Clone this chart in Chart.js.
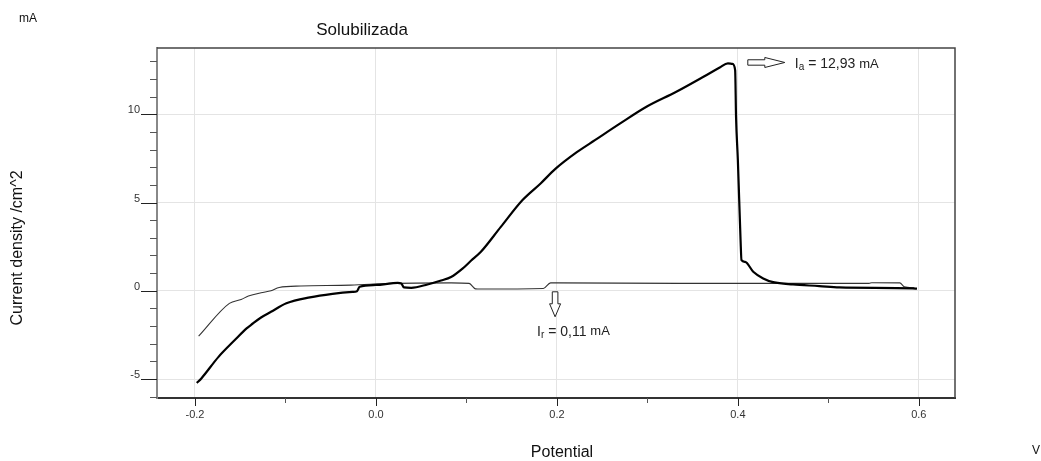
<!DOCTYPE html>
<html>
<head>
<meta charset="utf-8">
<script src="https://cdn.jsdelivr.net/npm/chart.js@4.4.1/dist/chart.umd.min.js"></script>
<style>
  body { margin: 0; background: #fff; }
  #wrap { width: 1041px; height: 461px; }
</style>
</head>
<body>
<div id="wrap"><canvas id="cv" width="1041" height="461"></canvas></div>
<script>
// forward scan (thick line), potential in V / current density in mA
var fwdX = [-0.198, -0.193, -0.174, -0.156, -0.143, -0.138, -0.127, -0.116, -0.099, -0.073, -0.048, -0.026, -0.021, -0.018, 0.000, 0.017, 0.024, 0.028, 0.031, 0.039, 0.057, 0.072, 0.083, 0.096, 0.105, 0.116, 0.138, 0.162, 0.182, 0.198, 0.222, 0.242, 0.270, 0.299, 0.332, 0.362, 0.380, 0.389, 0.394, 0.397, 0.398, 0.400, 0.403, 0.404, 0.408, 0.417, 0.428, 0.439, 0.461, 0.490, 0.512, 0.593, 0.598];
var fwdY = [-5.22, -4.96, -3.74, -2.79, -2.13, -1.93, -1.51, -1.19, -0.71, -0.37, -0.17, -0.06, -0.02, 0.23, 0.33, 0.42, 0.45, 0.42, 0.19, 0.17, 0.36, 0.58, 0.78, 1.27, 1.70, 2.21, 3.62, 5.14, 6.08, 6.89, 7.85, 8.53, 9.48, 10.42, 11.27, 12.12, 12.65, 12.88, 12.85, 12.5, 9.85, 7.4, 2.86, 1.74, 1.64, 1.08, 0.70, 0.49, 0.36, 0.27, 0.19, 0.14, 0.12];

// reverse scan (thin line)
var revX = [-0.196, -0.162, -0.149, -0.141, -0.127, -0.116, -0.107, -0.083, -0.028, 0.017, 0.083, 0.103, 0.110, 0.116, 0.185, 0.193, 0.200, 0.336, 0.545, 0.548, 0.579, 0.584, 0.595];
var revY = [-2.57, -0.71, -0.49, -0.30, -0.11, 0.00, 0.19, 0.27, 0.32, 0.42, 0.45, 0.42, 0.11, 0.10, 0.13, 0.45, 0.45, 0.42, 0.42, 0.46, 0.45, 0.23, 0.17];

var xMajor = [-0.2, 0.0, 0.2, 0.4, 0.6];
var yMajor = [-5, 0, 5, 10];

var peakLabel = '12,93';
var revLabel = '0,11';

function toPoints(xs, ys) {
  return xs.map(function(x, i) { return { x: x, y: ys[i] }; });
}
function isMajor(list, v) {
  return list.some(function(m) { return Math.abs(m - v) < 1e-6; });
}

var FONT = "'Liberation Sans', Arial, sans-serif";

// frame, minor/major tick marks, free texts and the two arrows
var decor = {
  id: 'decor',
  afterDraw: function(chart) {
    var c = chart.ctx, a = chart.chartArea;
    var xs = chart.scales.x, ys = chart.scales.y;
    c.save();

    c.strokeStyle = '#444';
    c.lineWidth = 1.5;
    c.beginPath();
    c.moveTo(a.left, a.top); c.lineTo(a.right, a.top); c.lineTo(a.right, a.bottom);
    c.stroke();

    c.lineWidth = 1;
    ys.ticks.forEach(function(t) {
      var py = Math.round(ys.getPixelForValue(t.value)) + 0.5;
      var maj = isMajor(yMajor, t.value);
      c.strokeStyle = maj ? '#222' : '#555';
      c.beginPath();
      c.moveTo(a.left - (maj ? 16 : 7), py); c.lineTo(a.left, py);
      c.stroke();
    });
    xs.ticks.forEach(function(t) {
      var px = Math.round(xs.getPixelForValue(t.value)) + 0.5;
      var maj = isMajor(xMajor, t.value);
      c.strokeStyle = maj ? '#222' : '#555';
      c.beginPath();
      c.moveTo(px, a.bottom); c.lineTo(px, a.bottom + (maj ? 8 : 5));
      c.stroke();
    });

    c.fillStyle = '#111';
    c.textBaseline = 'middle';
    c.textAlign = 'center';
    c.font = '17px ' + FONT;
    c.fillText('Solubilizada', 362, 30);
    c.font = '16px ' + FONT;
    c.fillText('Potential', 562, 453);
    c.font = '12px ' + FONT;
    c.fillText('mA', 28, 19);
    c.fillText('V', 1036, 451);

    c.save();
    c.translate(18, 248);
    c.rotate(-Math.PI / 2);
    c.font = '16px ' + FONT;
    c.fillText('Current density /cm^2', 0, 0);
    c.restore();

    // right arrow pointing at the anodic peak
    var ay = ys.getPixelForValue(12.93);
    var ax0 = xs.getPixelForValue(0.411), ax1 = ax0 + 37, ah = ax0 + 17;
    c.fillStyle = '#fff';
    c.strokeStyle = '#222';
    c.lineWidth = 1;
    c.beginPath();
    c.moveTo(ax0, ay - 2.7); c.lineTo(ah, ay - 2.7); c.lineTo(ah, ay - 5);
    c.lineTo(ax1, ay); c.lineTo(ah, ay + 5); c.lineTo(ah, ay + 2.7);
    c.lineTo(ax0, ay + 2.7); c.closePath();
    c.fill(); c.stroke();

    // down arrow under the reverse-scan step
    var bx = xs.getPixelForValue(0.198), by0 = ys.getPixelForValue(0) + 1;
    var by1 = by0 + 25, bh = by0 + 12;
    c.beginPath();
    c.moveTo(bx - 2.8, by0); c.lineTo(bx + 2.8, by0); c.lineTo(bx + 2.8, bh);
    c.lineTo(bx + 5.5, bh); c.lineTo(bx, by1); c.lineTo(bx - 5.5, bh);
    c.lineTo(bx - 2.8, bh); c.closePath();
    c.fill(); c.stroke();

    function label(x, y, sub, val) {
      c.textAlign = 'left';
      c.fillStyle = '#222';
      c.font = '14px ' + FONT;
      c.fillText('I', x, y);
      x += c.measureText('I').width;
      c.font = '10px ' + FONT;
      c.fillText(sub, x, y + 3);
      x += c.measureText(sub).width;
      c.font = '14px ' + FONT;
      var s = ' = ' + val + ' ';
      c.fillText(s, x, y);
      x += c.measureText(s).width;
      c.font = '13px ' + FONT;
      c.fillText('mA', x, y);
    }
    label(ax1 + 10, ay + 1.5, 'a', peakLabel);
    label(bx - 18, by1 + 15, 'r', revLabel);

    c.restore();
  }
};

var ctx = document.getElementById('cv').getContext('2d');
var chart = new Chart(ctx, {
  type: 'scatter',
  data: {
    datasets: [{
      label: 'forward',
      data: toPoints(fwdX, fwdY),
      showLine: true,
      borderColor: '#000',
      borderWidth: 2.2,
      pointRadius: 0,
      cubicInterpolationMode: 'monotone'
    }, {
      label: 'reverse',
      data: toPoints(revX, revY),
      showLine: true,
      borderColor: '#333',
      borderWidth: 1.1,
      pointRadius: 0,
      cubicInterpolationMode: 'monotone'
    }]
  },
  options: {
    responsive: false,
    animation: false,
    layout: { padding: { left: 0, right: 86, top: 48, bottom: 0 } },
    plugins: { legend: { display: false }, tooltip: { enabled: false }, title: { display: false } },
    scales: {
      x: {
        type: 'linear',
        min: -0.242,
        max: 0.640,
        afterFit: function(s) { s.height = 63; },
        border: { color: '#333', width: 2 },
        grid: {
          drawTicks: false,
          color: function(ctx) { return isMajor(xMajor, ctx.tick.value) ? '#e4e4e4' : 'rgba(0,0,0,0)'; }
        },
        ticks: {
          stepSize: 0.1,
          includeBounds: false,
          autoSkip: false,
          maxRotation: 0,
          padding: 10,
          color: '#333',
          font: { family: FONT, size: 11 },
          callback: function(v) {
            if (!isMajor(xMajor, v)) return '';
            if (Math.abs(v) < 1e-9) v = 0;
            return v.toFixed(1);
          }
        }
      },
      y: {
        type: 'linear',
        min: -6.07,
        max: 13.75,
        afterFit: function(s) { s.width = 157; },
        border: { color: '#888', width: 2 },
        grid: {
          drawTicks: false,
          color: function(ctx) { return isMajor(yMajor, ctx.tick.value) ? '#e4e4e4' : 'rgba(0,0,0,0)'; }
        },
        ticks: {
          stepSize: 1,
          includeBounds: false,
          autoSkip: false,
          padding: 17,
          labelOffset: -4,
          color: '#333',
          font: { family: FONT, size: 11 },
          callback: function(v) {
            return isMajor(yMajor, v) ? String(Math.round(v)) : '';
          }
        }
      }
    }
  },
  plugins: [decor]
});
</script>
</body>
</html>
